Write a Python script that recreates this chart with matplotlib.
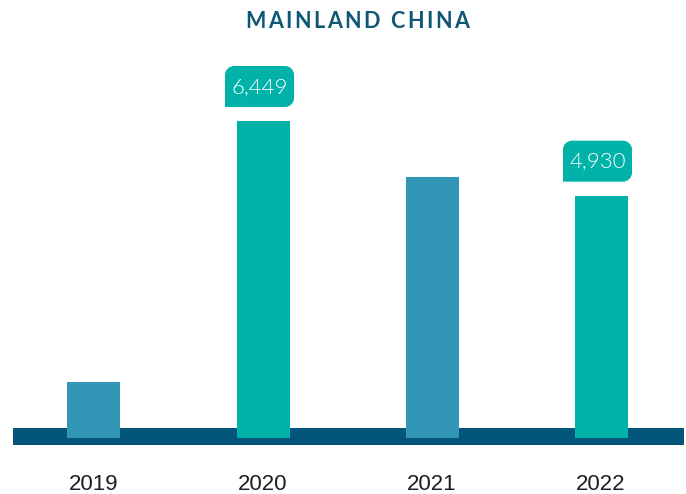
import matplotlib
matplotlib.use("Agg")
import matplotlib.pyplot as plt
from matplotlib.path import Path
from matplotlib.patches import PathPatch
from matplotlib.transforms import Affine2D
from matplotlib.font_manager import FontProperties

# ---- data ----
title = "MAINLAND CHINA"
years = ["2019", "2020", "2021", "2022"]
values = [1140, 6449, 5310, 4930]
labels = ["", "6,449", "", "4,930"]

# ---- style ----
BLUE = "#3296B6"
TEAL = "#00B2A8"
BAND = "#03557A"
TITLE_C = "#0E5876"
bar_colors = [BLUE, TEAL, BLUE, TEAL]

W, H, DPI = 686, 494, 100
fig = plt.figure(figsize=(W / DPI, H / DPI), dpi=DPI)
ax = fig.add_axes([0, 0, 1, 1])
ax.set_axis_off()

# pixel geometry (scale)
x0_px, step_px = 94.0, 169.0
base_px = 494 - 438  # value 0 at 56 px from bottom
per_px = 6449 / 317.0
ax.set_xlim(-x0_px / step_px, (W - x0_px) / step_px)
ax.set_ylim(-base_px * per_px, (H - base_px) * per_px)

xs = list(range(len(years)))
# baseline band
ax.axhspan(-7 * per_px, 10 * per_px, xmin=13 / W, xmax=684 / W, color=BAND, zorder=1, lw=0)
ax.bar(xs, values, width=53 / step_px, color=bar_colors, zorder=2, linewidth=0)

# year labels
for x, y in zip(xs, years):
    ax.annotate(y, (x, 0), xytext=(0, -46), textcoords="offset pixels",
                ha="center", va="center", fontsize=16, color="#1E1E1E",
                family=["Liberation Sans Narrow", "Liberation Sans", "DejaVu Sans"])

# callout boxes
def callout_path(l, r, b, t, rad):
    k = 0.5523
    verts = [
        (l, b), (r - rad, b),
        (r - rad + rad * k, b), (r, b + rad - rad * k), (r, b + rad),
        (r, t - rad),
        (r, t - rad + rad * k), (r - rad + rad * k, t), (r - rad, t),
        (l + rad, t),
        (l + rad - rad * k, t), (l, t - rad + rad * k), (l, t - rad),
        (l, b), (l, b),
    ]
    codes = [Path.MOVETO, Path.LINETO,
             Path.CURVE4, Path.CURVE4, Path.CURVE4,
             Path.LINETO,
             Path.CURVE4, Path.CURVE4, Path.CURVE4,
             Path.LINETO,
             Path.CURVE4, Path.CURVE4, Path.CURVE4,
             Path.LINETO, Path.CLOSEPOLY]
    return Path(verts, codes)

fig.canvas.draw()
for x, v, lab, c in zip(xs, values, labels, bar_colors):
    if not lab:
        continue
    px, py = ax.transData.transform((x, v))
    p = callout_path(-38, 31, 14, 55, 9)
    patch = PathPatch(p, transform=Affine2D().translate(px, py), facecolor=c,
                      edgecolor="none", zorder=3, clip_on=False)
    ax.add_artist(patch)
    ax.annotate(lab, (x, v), xytext=(-3.5, 34), textcoords="offset pixels",
                ha="center", va="center", fontsize=16, color="white",
                family=["Lato", "DejaVu Sans"], fontweight=300, zorder=5)

# title with letter spacing
fp = FontProperties(family=["Lato", "DejaVu Sans"], weight="bold", size=15.5)
renderer = fig.canvas.get_renderer()
widths = []
for ch in title:
    t = fig.text(0, 0, ch, fontproperties=fp)
    bb = t.get_window_extent(renderer)
    widths.append(bb.width if ch != " " else 5.0)
    t.remove()
spacing = 2.5
total = sum(widths) + spacing * (len(title) - 1)
cx = 357
xpos = cx - total / 2
for ch, w in zip(title, widths):
    fig.text(xpos / W, (H - 21) / H, ch, fontproperties=fp, color=TITLE_C,
             ha="left", va="center")
    xpos += w + spacing

fig.savefig("out.png", dpi=DPI)
